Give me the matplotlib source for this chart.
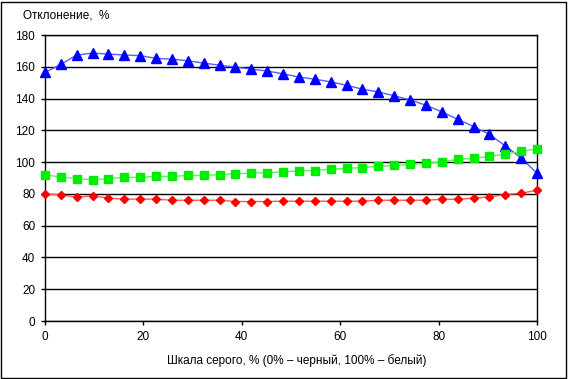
import numpy as np
import matplotlib
matplotlib.use("Agg")
import matplotlib.pyplot as plt
from matplotlib.patches import Rectangle

plt.rcParams['font.family'] = ['Liberation Sans', 'DejaVu Sans']

n_points = 32
x = [i * 100 / 31 for i in range(n_points)]

blue = [156.4, 161.5, 167.4, 168.6, 168.0, 167.4, 167.0, 165.3, 164.8, 163.8,
        162.3, 161.0, 159.8, 158.5, 157.3, 155.6, 153.5, 152.2, 150.5, 148.4,
        145.9, 144.2, 141.7, 139.2, 135.8, 131.6, 127.0, 122.4, 117.5, 110.2,
        102.6, 93.0]
green = [92.1, 90.6, 89.6, 88.9, 89.6, 90.4, 90.4, 91.0, 91.0, 91.6,
         91.6, 92.1, 92.7, 93.1, 93.3, 93.9, 94.5, 94.7, 95.6, 96.0,
         96.6, 97.3, 97.9, 98.5, 99.2, 100.2, 101.7, 102.3, 103.6, 105.0,
         106.7, 108.4]
red = [80.0, 79.4, 77.9, 78.8, 77.3, 76.7, 76.7, 76.7, 76.0, 76.0,
       76.0, 76.0, 75.2, 75.2, 75.2, 75.4, 75.4, 75.4, 75.4, 75.4,
       75.4, 76.0, 76.0, 76.0, 76.0, 76.6, 76.6, 77.3, 78.1, 79.6,
       80.4, 82.3]

xticks = [0, 20, 40, 60, 80, 100]
yticks = [0, 20, 40, 60, 80, 100, 120, 140, 160, 180]

W, H = 568, 379
fig = plt.figure(figsize=(W / 100, H / 100), dpi=100)
ax = fig.add_axes([45 / W, 1 - 321 / H, (537 - 45) / W, (321 - 35) / H])

ax.plot(x, blue, color='#5a5aff', lw=1.0, marker='^', markersize=6.5,
        markerfacecolor='#0000ff', markeredgecolor='#0000ff', clip_on=False, zorder=3)
ax.plot(x, green, color='#66ee66', lw=1.0, marker='s', markersize=5.5,
        markerfacecolor='#00ee00', markeredgecolor='#00ee00', clip_on=False, zorder=3)
ax.plot(x, red, color='#ff5555', lw=1.0, marker='D', markersize=4.2,
        markerfacecolor='#ff0000', markeredgecolor='#ff0000', clip_on=False, zorder=3)

ax.set_xlim(0, 100)
ax.set_ylim(0, 180)
ax.set_xticks(xticks)
ax.set_yticks(yticks)
ax.yaxis.grid(True, color='black', lw=1.0)
ax.set_axisbelow(True)
for s in ax.spines.values():
    s.set_color('black')
    s.set_linewidth(1.0)
ax.tick_params(axis='both', direction='out', length=3, width=1, color='black',
               labelsize=8.5, pad=4)
fig.text(297 / W, 1 - 361 / H, 'Шкала серого, % (0% – черный, 100% – белый)',
         fontsize=8.5, va='center', ha='center')
fig.text(23 / W, 1 - 16 / H, 'Отклонение,  %', fontsize=8.5, va='center', ha='left')

fig.patches.append(Rectangle((1 / W, 1 / H), (W - 3) / W, (H - 3) / H,
                             transform=fig.transFigure, fill=False,
                             edgecolor='black', lw=1.0))

fig.savefig('out.png', dpi=100)
